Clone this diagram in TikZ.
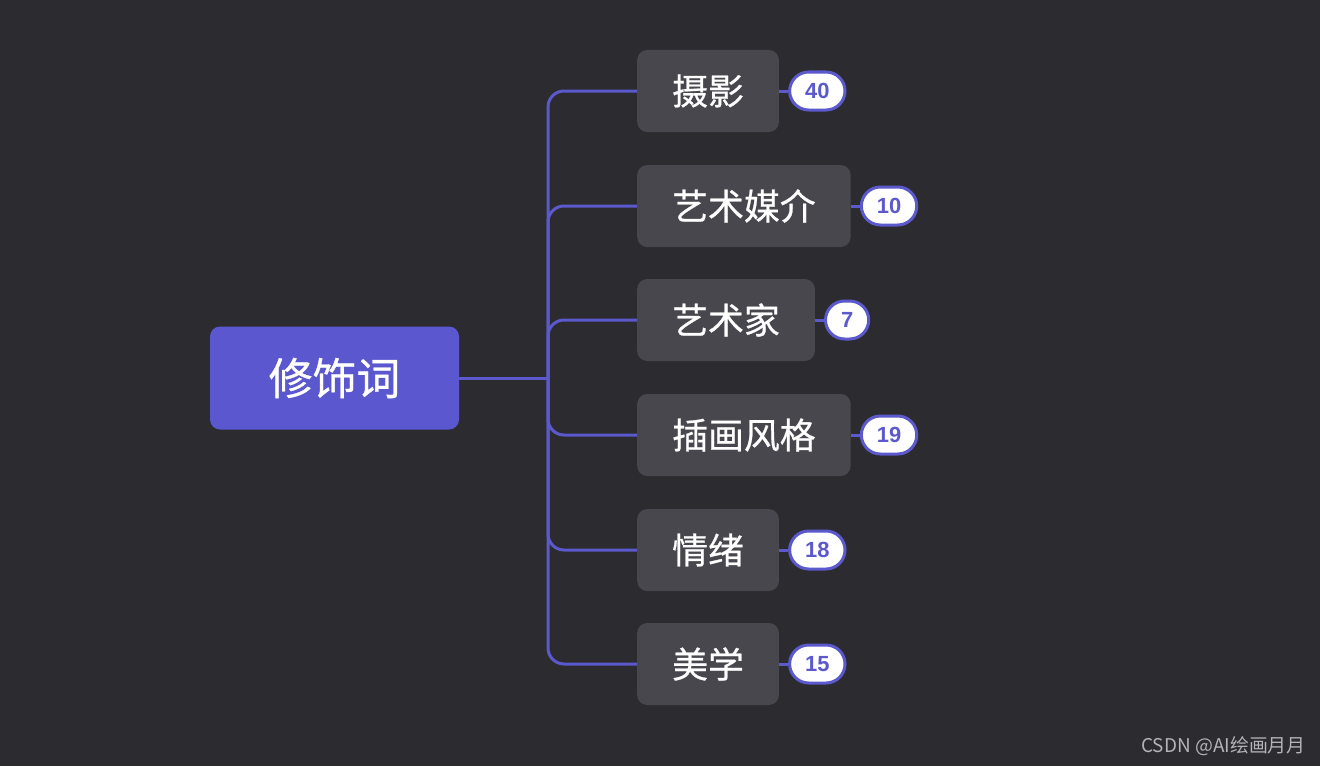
\documentclass[tikz,border=0pt]{standalone}
\usepackage{fontspec}
\setmainfont{Noto Sans CJK SC}
\newfontfamily\labelfont[FakeBold=0.7]{Noto Sans CJK SC}
\newfontfamily\numfont{Liberation Sans}
\usepackage{xcolor}
\usepackage{tikz}
\usetikzlibrary{positioning}

\definecolor{bgdark}{HTML}{2C2B30}
\definecolor{rootblue}{HTML}{5A57CF}
\definecolor{leafgrey}{HTML}{48474D}
\definecolor{linkblue}{HTML}{5B59CC}
\definecolor{markgrey}{HTML}{B4B4B8}

\begin{document}
\begin{tikzpicture}[x=1bp, y=-1bp,
  rootbox/.style={fill=rootblue, rounded corners=10bp, text=white,
    minimum width=249bp, minimum height=103bp,
    font=\labelfont\fontsize{44}{48}\selectfont},
  leafbox/.style={fill=leafgrey, rounded corners=10bp, text=white,
    inner xsep=35bp, minimum height=82bp, anchor=west,
    font=\labelfont\fontsize{36}{40}\selectfont},
  countpill/.style={fill=white, draw=linkblue, line width=3bp,
    rounded corners=19bp, text=linkblue, inner xsep=15.5bp,
    minimum width=43bp, minimum height=38bp,
    font=\numfont\bfseries\fontsize{22}{24}\selectfont},
  link/.style={draw=linkblue, line width=3bp}]

  % Background with the reference's margins
  \fill[bgdark] (0,0) rectangle (1320,766);
  \useasboundingbox (0,0) rectangle (1320,766);

  % Root node
  \node[rootbox] (root) at (334.5,378) {修饰词};
  \coordinate (fork) at (548,378);

  % Branch nodes
  \node[leafbox] (sheying) at (637,91) {摄影};
  \node[leafbox] (meijie)  at (637,206) {艺术媒介};
  \node[leafbox] (yishujia) at (637,320) {艺术家};
  \node[leafbox] (chahua)  at (637,435) {插画风格};
  \node[leafbox] (qingxu)  at (637,550) {情绪};
  \node[leafbox] (meixue)  at (637,664) {美学};

  % Count badges
  \node[countpill, right=9bp of sheying]  (nsheying)  {40};
  \node[countpill, right=9bp of meijie]   (nmeijie)   {10};
  \node[countpill, right=9bp of yishujia] (nyishujia) {7};
  \node[countpill, right=9bp of chahua]   (nchahua)   {19};
  \node[countpill, right=9bp of qingxu]   (nqingxu)   {18};
  \node[countpill, right=9bp of meixue]   (nmeixue)   {15};

  % Connectors from root to branches
  \draw[link] (root.east) -- (fork);
  \draw[link, rounded corners=16bp] (fork) |- (sheying.west);
  \draw[link, rounded corners=16bp] (fork) |- (meijie.west);
  \draw[link, rounded corners=16bp] (fork) |- (yishujia.west);
  \draw[link, rounded corners=16bp] (fork) |- (chahua.west);
  \draw[link, rounded corners=16bp] (fork) |- (qingxu.west);
  \draw[link, rounded corners=16bp] (fork) |- (meixue.west);

  % Short links to the badges
  \draw[link] (sheying.east) -- (nsheying.west);
  \draw[link] (meijie.east) -- (nmeijie.west);
  \draw[link] (yishujia.east) -- (nyishujia.west);
  \draw[link] (chahua.east) -- (nchahua.west);
  \draw[link] (qingxu.east) -- (nqingxu.west);
  \draw[link] (meixue.east) -- (nmeixue.west);

  % Watermark
  \node[anchor=east, text=markgrey, font=\fontsize{19}{21}\selectfont,
    inner sep=0pt] (mark) at (1306,746) {CSDN @AI绘画月月};
\end{tikzpicture}
\end{document}
